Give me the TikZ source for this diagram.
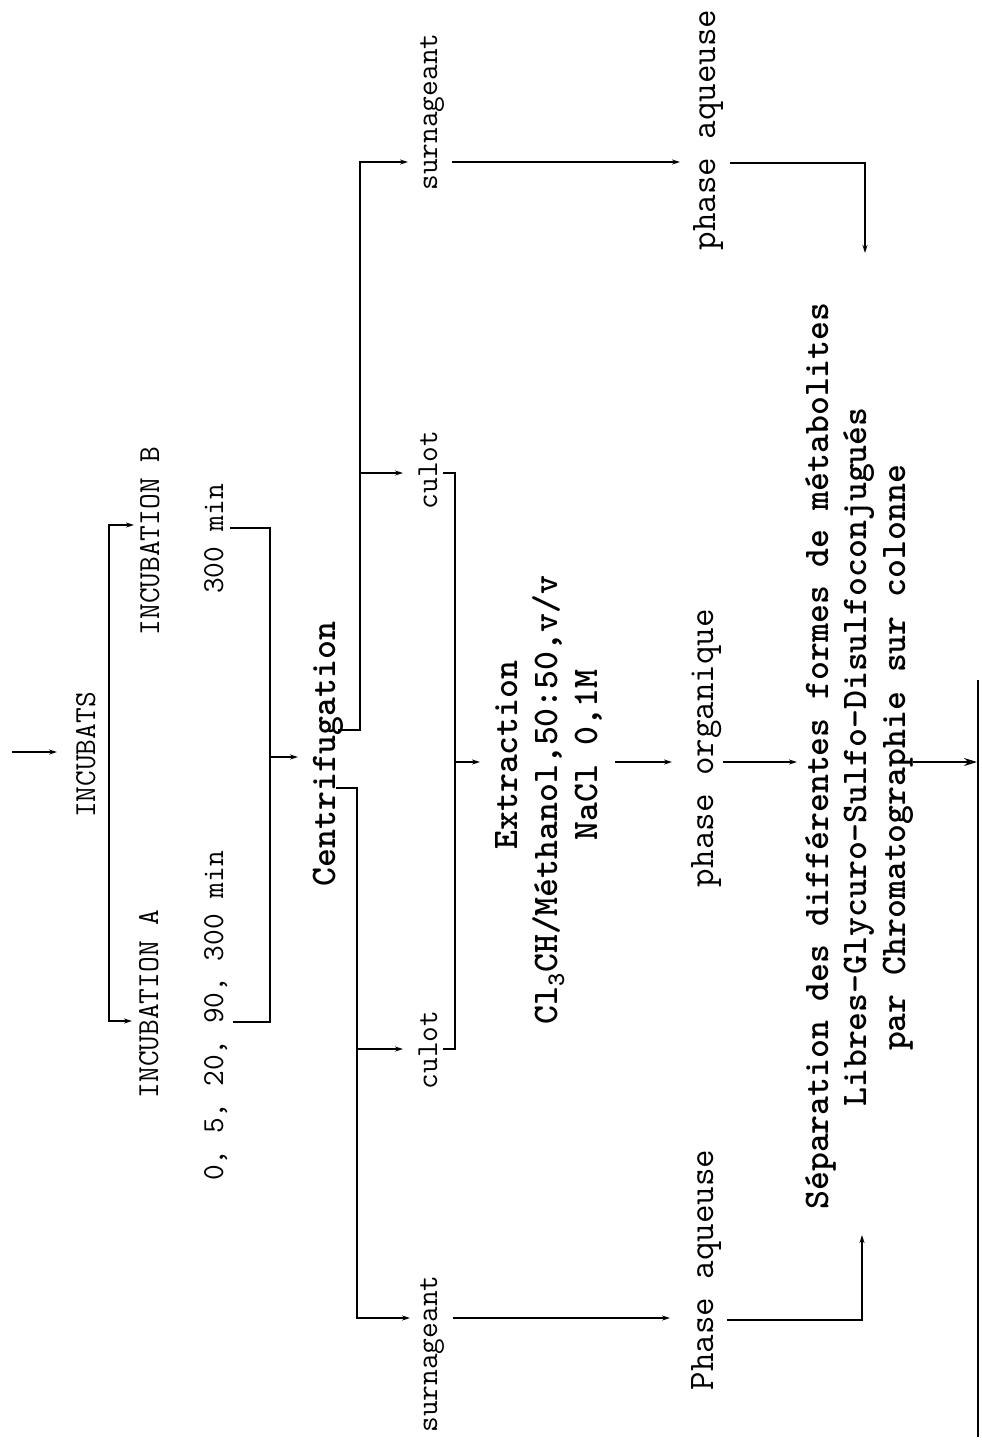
\documentclass[tikz,border=0pt]{standalone}
\usepackage{fontspec}
\usetikzlibrary{arrows.meta}
\tikzset{
  lab/.style={rotate=90, inner sep=0pt, anchor=base, font=\ttfamily\fontsize{30.5}{33}\selectfont},
  big/.style={rotate=90, inner sep=0pt, anchor=base, font=\ttfamily\fontsize{36}{40}\selectfont},
  bld/.style={rotate=90, inner sep=0pt, anchor=base, font=\ttfamily\bfseries\fontsize{36}{40}\selectfont},
  ln/.style={line width=1.5pt},
  arr/.style={ln, -{Stealth[length=8pt,width=5pt]}},
  bigarr/.style={ln, -{Stealth[length=13pt,width=8pt,open]}}
}
\begin{document}
\begin{tikzpicture}[x=1pt,y=-1pt]
\useasboundingbox (0,0) rectangle (982,1441);
% labels
\node[lab] (inc)  at (95,755)  {INCUBATS};
\node[lab] (incB) at (159,541) {INCUBATION B};
\node[lab] (incA) at (158,1004) {INCUBATION A};
\node[lab] (tB)   at (223,539) {300 min};
\node[lab] (tA)   at (223,1016) {0, 5, 20, 90, 300 min};
\node[bld] (cent) at (335,754) {Centrifugation};
\node[lab] (surnH) at (437,112) {surnageant};
\node[lab] (culH)  at (437,470) {culot};
\node[lab] (culB)  at (437,1050) {culot};
\node[lab] (surnB) at (437,1354) {surnageant};
\node[bld] (ext1) at (517,755) {Extraction};
\node[bld] (ext2) at (557,800) {Cl\textsubscript{3}CH/Méthanol,50:50,v/v};
\node[bld] (ext3) at (597,755) {NaCl 0,1M};
\node[big] (aqH) at (715,130) {phase aqueuse};
\node[big] (org) at (713,748) {phase organique};
\node[big] (aqB) at (713,1270) {Phase aqueuse};
\node[bld] (sep1) at (828,756) {Séparation des différentes formes de métabolites};
\node[bld] (sep2) at (866,757) {Libres-Glycuro-Sulfo-Disulfoconjugués};
\node[bld] (sep3) at (905,758) {par Chromatographie sur colonne};
% coordinates
\coordinate (a0) at (12,752);
\coordinate (a0e) at (57,752);
\coordinate (iv) at (109,760);
\coordinate (incBin) at (134,525);
\coordinate (incAin) at (132,1021);
\coordinate (tBout) at (230,528);
\coordinate (tAout) at (233,1022);
\coordinate (tv) at (270,757);
\coordinate (centin) at (298,757);
\coordinate (cHout) at (338,730);
\coordinate (cBout) at (336,788);
\coordinate (cHv) at (360,473);
\coordinate (cBv) at (357,1049);
\coordinate (sHin) at (408,162);
\coordinate (cuHin) at (403,473);
\coordinate (sBin) at (410,1318);
\coordinate (cuBin) at (403,1049);
\coordinate (cuHout) at (443,473);
\coordinate (cuBout) at (443,1049);
\coordinate (xv) at (455,762);
\coordinate (extin) at (480,762);
\coordinate (sHout) at (452,162);
\coordinate (aqHin) at (680,162);
\coordinate (sBout) at (453,1318);
\coordinate (aqBin) at (670,1318);
\coordinate (naout) at (615,762);
\coordinate (orgin) at (672,762);
\coordinate (orgout) at (723,762);
\coordinate (sepin) at (797,762);
\coordinate (sepout) at (913,762);
\coordinate (barin) at (977,762);
\coordinate (barT) at (978,680);
\coordinate (barB) at (978,1437);
\coordinate (aqHout) at (730,163);
\coordinate (sepHin) at (865,253);
\coordinate (aqBout) at (727,1320);
\coordinate (sepBin) at (862,1235);
% connectors
\draw[arr] (a0) -- (a0e);
\draw[arr] (iv) |- (incBin);
\draw[arr] (iv) |- (incAin);
\draw[ln] (tBout) -| (tv) |- (tAout);
\draw[arr] (tv) -- (centin);
\draw[ln] (cHout) -| (cHv);
\draw[arr] (cHv) |- (sHin);
\draw[arr] (cHv) -- (cuHin);
\draw[ln] (cBout) -| (cBv);
\draw[arr] (cBv) |- (sBin);
\draw[arr] (cBv) -- (cuBin);
\draw[ln] (cuHout) -| (xv) |- (cuBout);
\draw[arr] (xv) -- (extin);
\draw[arr] (sHout) -- (aqHin);
\draw[arr] (sBout) -- (aqBin);
\draw[arr] (naout) -- (orgin);
\draw[arr] (orgout) -- (sepin);
\draw[bigarr] (sepout) -- (barin);
\draw[ln] (barT) -- (barB);
\draw[arr] (aqHout) -| (sepHin);
\draw[arr] (aqBout) -| (sepBin);
\end{tikzpicture}
\end{document}
